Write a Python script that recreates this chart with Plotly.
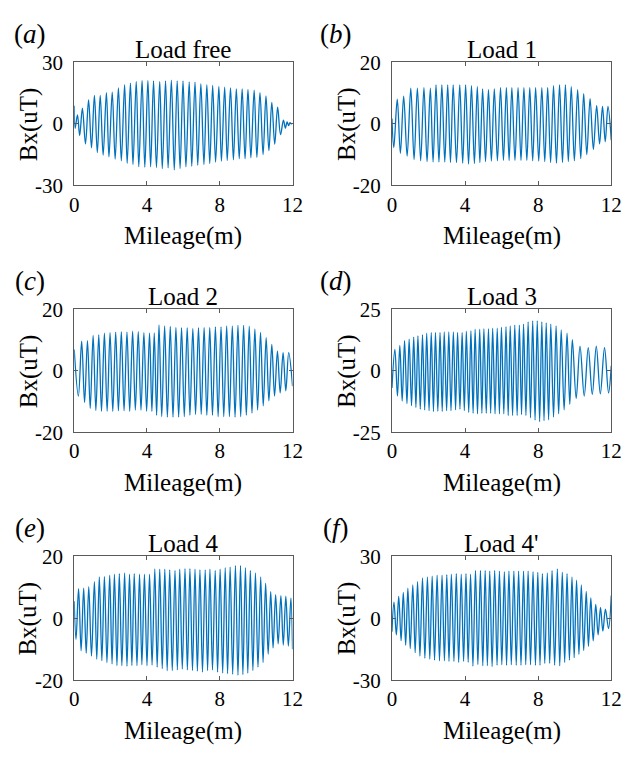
import plotly.graph_objects as go

# ---------------------------------------------------------------------------
# Data: Bx field (uT) along the mileage (m), stored as the positive and
# negative extrema of each oscillation for the six load cases.
# ---------------------------------------------------------------------------
TITLES = ["Load free", "Load 1", "Load 2", "Load 3", "Load 4", "Load 4'"]
LETTERS = ["a", "b", "c", "d", "e", "f"]

X_TICKS = [0, 4, 8, 12]
X_TICKTEXT = ["0", "4", "8", "12"]
Y_TICKS = [[-30, 0, 30], [-20, 0, 20], [-20, 0, 20], [-25, 0, 25], [-20, 0, 20], [-30, 0, 30]]
Y_TICKTEXT = [["-30", "0", "30"], ["-20", "0", "20"], ["-20", "0", "20"],
              ["-25", "0", "25"], ["-20", "0", "20"], ["-30", "0", "30"]]

# (a) Load free
A_PEAK_X = [0.00, 0.18, 0.45, 0.79, 1.11, 1.43, 1.77, 2.09, 2.43, 2.77, 3.09, 3.41, 3.73, 4.05,
            4.36, 4.70, 5.02, 5.34, 5.66, 5.98, 6.32, 6.64, 6.96, 7.29, 7.61, 7.95, 8.27, 8.59,
            8.91, 9.23, 9.55, 9.89, 10.21, 10.54, 10.86, 11.18, 11.50, 11.70, 11.86, 12.00]
A_PEAK_Y = [8.8, 4.4, 7.6, 11.7, 13.9, 13.9, 15.2, 15.5, 17.5, 19.1, 19.9, 20.7, 21.2, 21.2,
            21.0, 20.7, 21.0, 21.3, 21.0, 21.0, 20.5, 20.4, 19.6, 19.1, 18.7, 18.3, 17.9, 17.5,
            17.1, 17.1, 16.8, 16.5, 15.2, 13.6, 10.5, 8.1, 1.8, 1.0, 0.6, 0.3]
A_TROUGH_X = [0.05, 0.30, 0.62, 0.95, 1.27, 1.59, 1.91, 2.25, 2.59, 2.91, 3.23, 3.55, 3.88,
              4.20, 4.52, 4.84, 5.16, 5.50, 5.82, 6.14, 6.46, 6.79, 7.13, 7.45, 7.77, 8.09,
              8.41, 8.75, 9.07, 9.39, 9.71, 10.04, 10.38, 10.70, 11.02, 11.34, 11.61, 11.78, 11.93]
A_TROUGH_Y = [-2.2, -5.7, -9.8, -11.7, -14.0, -15.3, -16.1, -17.2, -18.0, -19.3, -19.9, -20.9,
              -21.2, -21.0, -21.3, -21.8, -21.5, -22.5, -21.8, -21.0, -20.7, -20.2, -19.8, -19.4,
              -18.7, -18.2, -17.9, -17.6, -17.1, -17.1, -16.6, -16.3, -15.0, -13.1, -9.9, -5.3,
              -2.1, -0.9, 0.0]

# (b) Load 1
B_PEAK_X = [0.29, 0.64, 1.03, 1.39, 1.75, 2.10, 2.41, 2.73, 3.05, 3.35, 3.71, 4.03, 4.35, 4.67,
            4.96, 5.28, 5.60, 5.94, 6.26, 6.56, 6.90, 7.22, 7.54, 7.86, 8.20, 8.52, 8.84, 9.17,
            9.49, 9.81, 10.16, 10.49, 10.84, 11.20, 11.52, 11.82]
B_PEAK_Y = [8.0, 9.0, 11.6, 11.6, 11.8, 11.6, 12.7, 12.7, 12.7, 12.7, 12.7, 12.7, 12.4, 12.1,
            11.4, 11.1, 11.4, 11.8, 11.8, 11.8, 11.8, 11.8, 11.8, 11.8, 11.8, 11.8, 12.4, 12.7,
            12.7, 12.1, 11.1, 9.8, 8.2, 5.9, 5.7, 5.7]
B_TROUGH_X = [0.00, 0.10, 0.46, 0.83, 1.21, 1.57, 1.92, 2.25, 2.57, 2.89, 3.20, 3.53, 3.87,
              4.19, 4.51, 4.81, 5.12, 5.44, 5.77, 6.10, 6.41, 6.73, 7.06, 7.38, 7.70, 8.03,
              8.36, 8.68, 9.00, 9.33, 9.65, 9.98, 10.33, 10.66, 11.02, 11.36, 11.67, 12.00]
B_TROUGH_Y = [1.7, -7.7, -9.6, -10.5, -11.6, -12.0, -12.3, -12.4, -12.4, -12.4, -12.6, -12.6,
              -12.8, -13.1, -12.9, -12.6, -12.3, -12.1, -12.0, -11.9, -11.9, -11.9, -11.9, -11.9,
              -12.0, -12.1, -12.3, -12.6, -12.8, -12.6, -12.3, -12.0, -11.3, -10.0, -8.3, -6.5,
              -5.8, -5.3]

# (c) Load 2
C_PEAK_X = [0.00, 0.41, 0.73, 1.04, 1.35, 1.66, 1.97, 2.28, 2.59, 2.90, 3.21, 3.52, 3.83, 4.14,
            4.40, 4.66, 4.97, 5.28, 5.59, 5.90, 6.21, 6.52, 6.83, 7.14, 7.45, 7.76, 8.07, 8.38,
            8.69, 9.00, 9.31, 9.62, 9.93, 10.24, 10.55, 10.86, 11.17, 11.48, 11.79]
C_PEAK_Y = [6.9, 9.6, 9.8, 11.5, 11.7, 12.2, 12.4, 12.6, 12.7, 12.6, 12.9, 12.7, 12.4, 12.2,
            12.3, 14.9, 14.6, 14.4, 14.1, 14.0, 14.0, 13.8, 14.0, 14.1, 14.1, 14.3, 14.3, 14.6,
            14.6, 14.8, 14.8, 14.5, 13.6, 12.5, 10.8, 8.6, 6.4, 5.9, 5.9]
C_TROUGH_X = [0.23, 0.57, 0.88, 1.19, 1.50, 1.81, 2.12, 2.43, 2.74, 3.05, 3.36, 3.67, 3.98,
              4.27, 4.53, 4.81, 5.12, 5.43, 5.74, 6.05, 6.36, 6.67, 6.98, 7.29, 7.60, 7.91,
              8.22, 8.53, 8.84, 9.15, 9.46, 9.77, 10.08, 10.39, 10.70, 11.01, 11.32, 11.63, 12.00]
C_TROUGH_Y = [-8.2, -10.3, -12.2, -12.9, -13.2, -13.2, -13.2, -13.0, -13.0, -13.2, -12.8, -12.8,
              -13.2, -13.2, -14.5, -14.9, -15.1, -15.1, -15.1, -14.9, -14.5, -14.2, -14.2, -14.5,
              -14.5, -14.9, -14.9, -14.9, -15.1, -14.9, -14.5, -13.8, -12.8, -11.4, -9.8, -8.2,
              -7.2, -6.5, -5.0]

# (d) Load 3
D_PEAK_X = [0.16, 0.43, 0.69, 0.94, 1.19, 1.42, 1.67, 1.90, 2.15, 2.38, 2.63, 2.86, 3.11, 3.36,
            3.59, 3.84, 4.07, 4.32, 4.55, 4.80, 5.03, 5.28, 5.51, 5.76, 5.99, 6.24, 6.47, 6.72,
            6.97, 7.20, 7.45, 7.70, 7.95, 8.20, 8.44, 8.69, 8.98, 9.26, 9.58, 9.87, 10.29,
            10.74, 11.18, 11.63]
D_PEAK_Y = [8.7, 10.3, 12.3, 12.9, 13.7, 14.2, 14.6, 15.3, 15.6, 15.6, 15.6, 15.8, 15.8, 15.8,
            15.6, 15.6, 16.1, 16.3, 16.9, 16.9, 17.1, 17.1, 17.3, 17.3, 17.7, 17.9, 18.2, 18.6,
            18.6, 19.0, 19.9, 20.3, 20.3, 19.9, 19.5, 19.0, 18.2, 16.6, 15.3, 12.7, 10.0, 9.4,
            10.0, 9.4]
D_TROUGH_X = [0.00, 0.30, 0.56, 0.82, 1.07, 1.31, 1.55, 1.79, 2.03, 2.27, 2.51, 2.75, 2.99,
              3.23, 3.48, 3.72, 3.96, 4.20, 4.44, 4.68, 4.92, 5.16, 5.40, 5.64, 5.88, 6.12,
              6.36, 6.60, 6.85, 7.09, 7.33, 7.58, 7.83, 8.08, 8.32, 8.57, 8.84, 9.12, 9.42,
              9.73, 10.08, 10.52, 10.96, 11.40, 11.85, 12.00]
D_TROUGH_Y = [-7.0, -10.3, -12.3, -13.3, -14.2, -14.9, -15.6, -15.9, -16.2, -16.5, -16.5, -16.5,
              -16.2, -16.2, -15.9, -15.6, -16.2, -16.9, -17.3, -17.5, -17.3, -17.3, -17.3, -17.5,
              -17.5, -17.5, -18.2, -18.2, -18.2, -17.8, -18.2, -19.1, -20.1, -20.7, -20.3, -19.9,
              -18.8, -17.5, -15.9, -13.6, -11.2, -10.3, -9.6, -9.4, -9.0, 2.0]

# (e) Load 4
E_PEAK_X = [0.24, 0.52, 0.80, 1.11, 1.38, 1.66, 1.95, 2.21, 2.48, 2.77, 3.04, 3.30, 3.59, 3.86,
            4.14, 4.43, 4.70, 4.98, 5.25, 5.54, 5.80, 6.09, 6.36, 6.64, 6.91, 7.20, 7.46, 7.75,
            8.02, 8.30, 8.57, 8.86, 9.14, 9.41, 9.68, 9.96, 10.25, 10.52, 10.80, 11.07, 11.36,
            11.63, 11.91]
E_PEAK_Y = [9.5, 9.7, 10.2, 11.8, 13.3, 13.5, 13.9, 14.2, 14.4, 14.6, 14.2, 14.4, 14.2, 14.2,
            14.2, 15.9, 15.8, 15.8, 15.6, 15.4, 15.8, 16.0, 16.0, 15.8, 15.6, 15.6, 15.8, 15.4,
            15.8, 16.3, 16.5, 17.0, 17.0, 16.3, 15.4, 14.6, 13.3, 11.3, 8.6, 7.6, 7.3, 7.1, 6.5]
E_TROUGH_X = [0.00, 0.10, 0.38, 0.66, 0.95, 1.24, 1.52, 1.80, 2.08, 2.35, 2.62, 2.90, 3.17,
              3.45, 3.72, 4.00, 4.28, 4.56, 4.84, 5.11, 5.39, 5.67, 5.94, 6.22, 6.50, 6.77,
              7.05, 7.33, 7.60, 7.88, 8.16, 8.43, 8.71, 9.00, 9.27, 9.54, 9.82, 10.10, 10.38,
              10.66, 10.93, 11.21, 11.49, 11.77, 12.00]
E_TROUGH_Y = [5.5, -6.8, -10.5, -11.3, -12.2, -13.2, -13.7, -14.3, -14.8, -15.3, -15.3, -15.5,
              -15.3, -15.3, -15.0, -15.3, -15.1, -15.8, -16.3, -16.9, -16.9, -16.7, -16.4, -16.7,
              -16.9, -17.1, -17.4, -16.9, -16.7, -17.4, -17.7, -17.9, -18.1, -18.4, -18.2, -17.7,
              -16.9, -15.8, -14.3, -11.6, -9.6, -8.3, -8.7, -9.0, -10.0]

# (f) Load 4'
F_PEAK_X = [0.11, 0.37, 0.62, 0.87, 1.14, 1.40, 1.67, 1.94, 2.20, 2.47, 2.74, 3.00, 3.25, 3.52,
            3.79, 4.05, 4.30, 4.57, 4.84, 5.10, 5.35, 5.62, 5.88, 6.15, 6.40, 6.67, 6.93, 7.20,
            7.45, 7.72, 7.98, 8.23, 8.50, 8.76, 9.05, 9.32, 9.58, 9.85, 10.10, 10.36, 10.63,
            10.88, 11.15, 11.41, 11.68, 12.00]
F_PEAK_Y = [7.8, 10.6, 12.5, 14.5, 16.1, 17.7, 19.5, 20.0, 20.3, 20.8, 20.8, 21.1, 21.3, 21.6,
            21.3, 21.6, 21.3, 23.1, 23.1, 23.1, 22.8, 23.1, 22.8, 22.5, 22.8, 22.8, 22.8, 22.8,
            22.8, 22.5, 22.2, 21.6, 21.9, 23.1, 23.9, 22.3, 21.6, 20.0, 18.4, 16.1, 13.0, 9.8,
            6.7, 5.2, 4.4, 11.0]
F_TROUGH_X = [0.00, 0.24, 0.50, 0.75, 1.00, 1.27, 1.53, 1.80, 2.07, 2.33, 2.60, 2.87, 3.12,
              3.39, 3.65, 3.92, 4.17, 4.43, 4.70, 4.97, 5.22, 5.48, 5.75, 6.01, 6.27, 6.53,
              6.80, 7.06, 7.32, 7.58, 7.85, 8.10, 8.36, 8.63, 8.90, 9.18, 9.45, 9.71, 9.97,
              10.23, 10.49, 10.75, 11.01, 11.28, 11.54, 11.85]
F_TROUGH_Y = [-6.5, -8.1, -10.9, -13.1, -14.7, -16.7, -18.3, -19.4, -19.8, -20.3, -20.6, -20.6,
              -20.9, -20.9, -21.4, -20.9, -21.4, -23.2, -22.5, -23.0, -23.0, -23.4, -22.8, -22.5,
              -22.8, -22.5, -22.8, -22.8, -22.5, -22.5, -22.8, -22.8, -21.9, -21.9, -22.8, -23.0,
              -21.4, -20.3, -19.1, -17.5, -15.6, -13.6, -11.0, -8.1, -6.3, -5.0]

SERIES = [
    (A_PEAK_X, A_PEAK_Y, A_TROUGH_X, A_TROUGH_Y),
    (B_PEAK_X, B_PEAK_Y, B_TROUGH_X, B_TROUGH_Y),
    (C_PEAK_X, C_PEAK_Y, C_TROUGH_X, C_TROUGH_Y),
    (D_PEAK_X, D_PEAK_Y, D_TROUGH_X, D_TROUGH_Y),
    (E_PEAK_X, E_PEAK_Y, E_TROUGH_X, E_TROUGH_Y),
    (F_PEAK_X, F_PEAK_Y, F_TROUGH_X, F_TROUGH_Y),
]

# ---------------------------------------------------------------------------
# Figure layout (pixel geometry of a 633 x 759 page)
# ---------------------------------------------------------------------------
W, H = 633, 759
COL_PX = [(71, 295), (397, 622)]              # left/right edges of the axes boxes
ROW_PX = [(52, 179), (307, 434), (562, 690)]  # top/bottom edges of the axes boxes
LETTER_X = [26, 340]
YLABEL_X = [24, 351]

FONT = "Liberation Serif"
LINE_COLOR = "#0072BD"
AXIS_COLOR = "#5a5a5a"


def px_x(v):
    return v / W


def px_y(v):
    return 1 - v / H


def merge(px, py, tx, ty):
    pts = sorted(zip(px + tx, py + ty))
    return [p[0] for p in pts], [p[1] for p in pts]


fig = go.Figure()
annotations = []

for i, (pxs, pys, txs, tys) in enumerate(SERIES):
    row, col = divmod(i, 2)
    n = i + 1
    xname = "x" if n == 1 else f"x{n}"
    yname = "y" if n == 1 else f"y{n}"
    xs, ys = merge(pxs, pys, txs, tys)
    fig.add_trace(go.Scatter(
        x=xs, y=ys, mode="lines", xaxis=xname, yaxis=yname,
        line=dict(color=LINE_COLOR, width=1.3, shape="spline", smoothing=1.0),
        showlegend=False, hoverinfo="skip",
    ))

    left, right = COL_PX[col]
    top, bottom = ROW_PX[row]
    lim = Y_TICKS[i][-1]

    common = dict(
        showline=True, linecolor=AXIS_COLOR, linewidth=1, mirror="ticks",
        ticks="inside", ticklen=4, tickwidth=1, tickcolor=AXIS_COLOR,
        showgrid=False, zeroline=False,
        tickfont=dict(family=FONT, size=21, color="black"),
    )
    fig.layout[f"xaxis{'' if n == 1 else n}"] = dict(
        common, domain=[px_x(left), px_x(right)], anchor=yname,
        range=[0, 12], tickvals=X_TICKS, ticktext=X_TICKTEXT,
    )
    fig.layout[f"yaxis{'' if n == 1 else n}"] = dict(
        common, domain=[px_y(bottom), px_y(top)], anchor=xname,
        range=[-lim, lim], tickvals=Y_TICKS[i], ticktext=Y_TICKTEXT[i],
        ticklabelstandoff=6,
    )

    cx = (left + right) / 2
    cy = (top + bottom) / 2
    # subplot title
    annotations.append(dict(
        text=TITLES[i], x=px_x(cx), y=px_y(top - 13), xref="paper", yref="paper",
        xanchor="center", yanchor="middle", showarrow=False,
        font=dict(family=FONT, size=25, color="black"),
    ))
    # x axis title
    annotations.append(dict(
        text="Mileage(m)", x=px_x(cx), y=px_y(bottom + 52), xref="paper", yref="paper",
        xanchor="center", yanchor="middle", showarrow=False,
        font=dict(family=FONT, size=25, color="black"),
    ))
    # y axis title
    annotations.append(dict(
        text="Bx(uT)", x=px_x(YLABEL_X[col]), y=px_y(cy), xref="paper", yref="paper",
        xanchor="center", yanchor="middle", showarrow=False, textangle=-90,
        font=dict(family=FONT, size=25, color="black"),
    ))
    # panel letter
    annotations.append(dict(
        text=f"(<i>{LETTERS[i]}</i>)", x=px_x(LETTER_X[col]), y=px_y(top - 29),
        xref="paper", yref="paper", xanchor="center", yanchor="middle", showarrow=False,
        font=dict(family=FONT, size=27, color="black"),
    ))

fig.update_layout(
    width=W, height=H, margin=dict(l=0, r=0, t=0, b=0),
    paper_bgcolor="white", plot_bgcolor="white",
    annotations=annotations,
)

fig.write_html("out.html")
